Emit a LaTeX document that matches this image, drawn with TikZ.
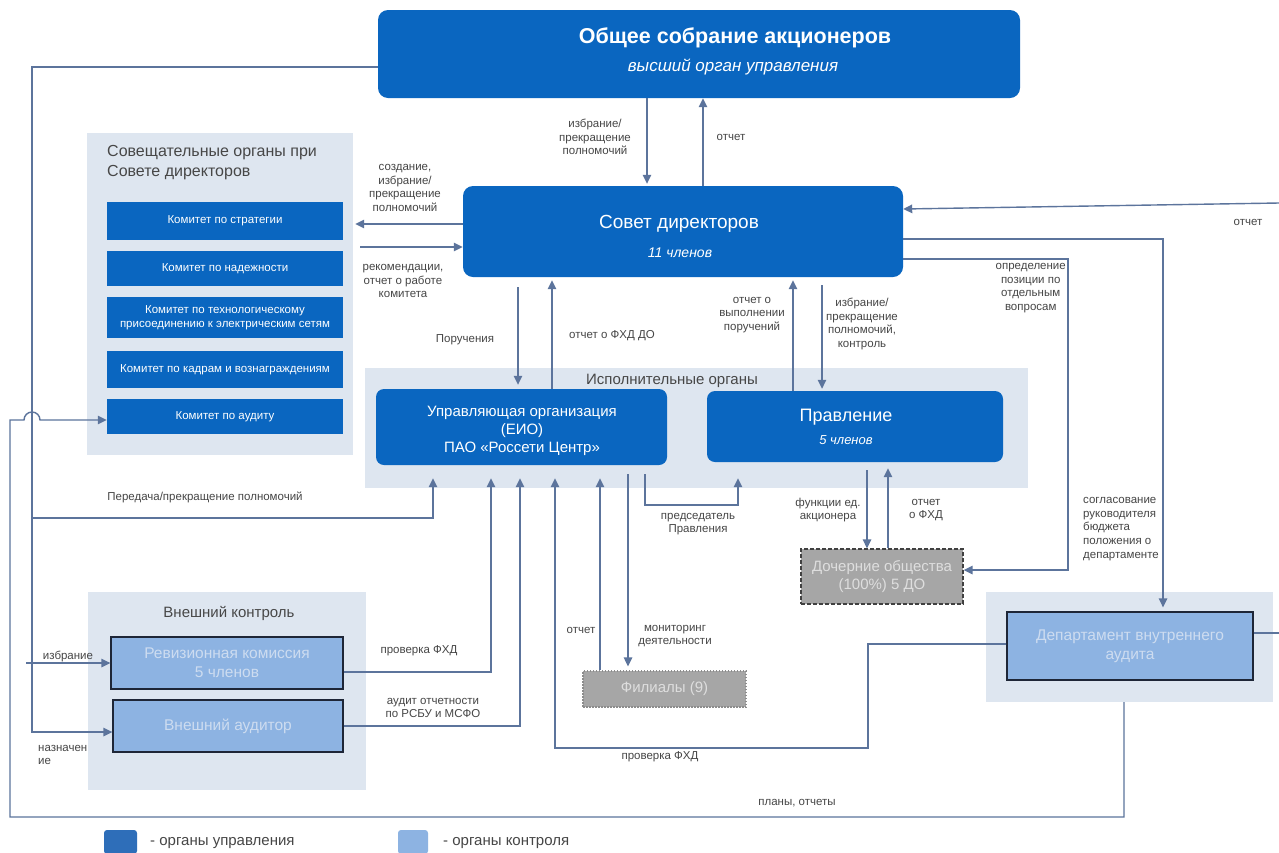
\documentclass[tikz,border=0pt]{standalone}
\usepackage{fontspec}
\setmainfont{Liberation Sans}
\usetikzlibrary{arrows.meta}
\definecolor{dblue}{RGB}{10,102,192}
\definecolor{pnl}{RGB}{222,230,240}
\definecolor{cbox}{RGB}{141,179,226}
\definecolor{cborder}{RGB}{30,38,55}
\definecolor{ctext}{RGB}{205,220,240}
\definecolor{lc}{RGB}{92,116,156}
\definecolor{tc}{RGB}{70,70,70}
\definecolor{gbox}{RGB}{166,166,166}
\definecolor{gtext}{RGB}{222,222,222}
\definecolor{legd}{RGB}{46,110,185}
\newcommand{\fsz}[2]{\fontsize{#1}{#2}\selectfont}
\begin{document}
\begin{tikzpicture}[x=1pt,y=-1pt,
  arr/.style={draw=lc, line width=1.4pt, -{Triangle[length=9pt,width=8.5pt]}},
  ln/.style={draw=lc, line width=1.4pt},
  lbl/.style={font=\fsz{11.5}{13.8}, text=tc, align=center, inner sep=0pt},
  dbox/.style={fill=dblue, text=white, align=center, inner sep=0pt},
  panel/.style={fill=pnl, inner sep=0pt},
  cbx/.style={fill=cbox, draw=cborder, line width=1.3pt, text=ctext, align=center, inner sep=0pt, font=\fsz{15.5}{19}},
  gbx/.style={fill=gbox, draw=black!75, line width=1.3pt, text=gtext, align=center, inner sep=0pt, font=\fsz{15}{18}},
  comm/.style={dbox, minimum width=236pt, font=\fsz{11.5}{14}},
  ttl/.style={text=black!72, inner sep=0pt},
]
\fill[white] (0,0) rectangle (1279,852);
\useasboundingbox (0,0) rectangle (1279,852);

% panels
\node[panel, minimum width=266pt, minimum height=322pt] (sovpanel) at (220,294) {};
\node[panel, minimum width=663pt, minimum height=120pt] (exec) at (696.5,428) {};
\node[panel, minimum width=278pt, minimum height=198pt] (ext) at (227,691) {};
\node[panel, minimum width=287pt, minimum height=110pt] (dvapanel) at (1129.5,647) {};

% top box
\node[dbox, rounded corners=10pt, minimum width=642pt, minimum height=88pt] (gsm) at (699,54) {};
\node[text=white, inner sep=0pt, font=\fsz{21.5}{25}\bfseries] (gsmt) at (735,38) {Общее собрание акционеров};
\node[text=white, inner sep=0pt, font=\fsz{17}{20}\itshape] (gsms) at (733,67) {высший орган управления};

% board
\node[dbox, rounded corners=10pt, minimum width=440pt, minimum height=91pt] (sovet) at (683,231.5) {};
\node[text=white, inner sep=0pt, font=\fsz{19}{22}] (sovett) at (679,224) {Совет директоров};
\node[text=white, inner sep=0pt, font=\fsz{14}{17}\itshape] (sovets) at (680,253) {11 членов};

% committees
\node[ttl, anchor=west, align=left, font=\fsz{16}{20}] (sovtitle) at (107,163) {Совещательные органы при\\Совете директоров};
\node[comm, minimum height=38pt] (c1) at (225,221) {Комитет по стратегии};
\node[comm, minimum height=35pt] (c2) at (225,268.5) {Комитет по надежности};
\node[comm, minimum height=41pt] (c3) at (225,317.5) {Комитет по технологическому\\присоединению к электрическим сетям};
\node[comm, minimum height=37pt] (c4) at (225,369.5) {Комитет по кадрам и вознаграждениям};
\node[comm, minimum height=35pt] (c5) at (225,416.5) {Комитет по аудиту};

% executive bodies
\node[ttl, font=\fsz{15}{18}] (exect) at (672,381) {Исполнительные органы};
\node[dbox, rounded corners=8pt, minimum width=291pt, minimum height=76pt] (uo) at (521.5,427) {};
\node[text=white, align=center, inner sep=0pt, font=\fsz{15}{18}] (uot) at (522,431) {Управляющая организация\\(ЕИО)\\ПАО «Россети Центр»};
\node[dbox, rounded corners=8pt, minimum width=296pt, minimum height=71pt] (prav) at (855,426.5) {};
\node[text=white, inner sep=0pt, font=\fsz{18}{21}] (pravt) at (846,417) {Правление};
\node[text=white, inner sep=0pt, font=\fsz{13}{16}\itshape] (pravs) at (846,440) {5 членов};

% external control
\node[ttl, font=\fsz{15}{18}] (extt) at (229,613) {Внешний контроль};
\node[cbx, minimum width=232pt, minimum height=52pt] (rk) at (227,663) {Ревизионная комиссия\\5 членов};
\node[cbx, minimum width=230pt, minimum height=52pt] (va) at (228,726) {Внешний аудитор};

% internal audit
\node[cbx, minimum width=246pt, minimum height=68pt] (dva) at (1130,646) {Департамент внутреннего\\аудита};

% subsidiaries, branches
\node[gbx, dash pattern=on 4pt off 2pt, minimum width=162pt, minimum height=55pt] (doch) at (882,576.5) {Дочерние общества\\(100\%) 5 ДО};
\node[gbx, draw=black!45, dash pattern=on 1.5pt off 1.5pt, minimum width=163pt, minimum height=36pt] (fil) at (664.5,689) {Филиалы (9)};

% legend
\node[fill=legd, rounded corners=3pt, minimum width=33pt, minimum height=24pt, inner sep=0pt] (leg1) at (120.5,842) {};
\node[anchor=west, inner sep=0pt, font=\fsz{15}{18}, text=tc] (leg1t) at (150,843) {- органы управления};
\node[fill=cbox, rounded corners=3pt, minimum width=30pt, minimum height=24pt, inner sep=0pt] (leg2) at (413,842) {};
\node[anchor=west, inner sep=0pt, font=\fsz{15}{18}, text=tc] (leg2t) at (443,843) {- органы контроля};

% helper coordinates
\coordinate (uob) at ([yshift=-13pt]uo.south);
\coordinate (prb) at ([yshift=-16pt]prav.south);
\coordinate (rt1) at (1279,203);
\coordinate (rt2) at (1279,633);

% top <-> board
\draw[arr, shorten >=2pt] (gsm.south -| 647,0) -- (sovet.north -| 647,0);
\draw[arr] (sovet.north -| 703,0) -- (gsm.south -| 703,0);
% board <-> committees
\draw[arr, shorten >=2pt] (sovet.west |- 0,224) -- (sovpanel.east |- 0,224);
\draw[arr, shorten <=7pt] (sovpanel.east |- 0,247) -- (sovet.west |- 0,247);
% board <-> executive
\draw[arr, shorten <=10pt, shorten >=4pt] (sovet.south -| 518,0) -- (uo.north -| 518,0);
\draw[arr, shorten >=3pt] (uo.north -| 552,0) -- (sovet.south -| 552,0);
\draw[arr, shorten >=3pt] (prav.north -| 793,0) -- (sovet.south -| 793,0);
\draw[arr, shorten <=8pt, shorten >=2pt] (sovet.south -| 822,0) -- (prav.north -| 822,0);
% board -> subsidiaries / internal audit
\draw[arr] (sovet.east |- 0,259) -| (1068,570) -- (doch.east |- 0,570);
\draw[arr, shorten >=4pt] (sovet.east |- 0,239) -| (dva.north -| 1163,0);
\draw[ln] (dva.east |- rt2) -- (rt2);
\draw[arr] (rt1) -- (sovet.east |- 0,209);
% left trunk from shareholders
\draw[arr] (gsm.west |- 0,67) -- (32,67) |- ([yshift=-6pt]va.west);
\draw[arr] (32,518) -| (uob -| 433,0);
\draw[arr] (26,663) -- (rk.west);
% bottom loop to audit committee
\draw[arr] (dvapanel.south -| 1124,0) -- (1124,817) -- (10,817) -- (10,420) -- (24,420) arc[start angle=180,end angle=360,radius=8] -- (c5.west |- 0,420);
% control -> executive
\draw[arr] ([yshift=-9pt]rk.east) -| (uob -| 491,0);
\draw[arr] (va.east) -| (uob -| 520,0);
\draw[arr] (dva.west |- 0,644) -- (868,644) |- (555,748) -- (uob -| 555,0);
% branches
\draw[arr] (fil.north -| 600,0) -- (uob -| 600,0);
\draw[arr, shorten <=-4pt, shorten >=4pt] (uob -| 628,0) -- (fil.north -| 628,0);
\draw[arr, shorten <=-4pt] (uob -| 645,0) -- (645,505) -| (prb -| 738,0);
% board of management <-> subsidiaries
\draw[arr, shorten <=8pt] (prav.south -| 867,0) -- (doch.north -| 867,0);
\draw[arr, shorten >=6pt] (doch.north -| 888,0) -- (prav.south -| 888,0);

% labels
\node[lbl] (l1) at (595,137) {избрание/\\прекращение\\полномочий};
\node[lbl] (l2) at (731,137) {отчет};
\node[lbl] (l3) at (405,188) {создание,\\избрание/\\прекращение\\полномочий};
\node[lbl] (l4) at (403,281) {рекомендации,\\отчет о работе\\комитета};
\node[lbl] (l5) at (465,340) {Поручения};
\node[lbl] (l6) at (612,336) {отчет о ФХД ДО};
\node[lbl] (l7) at (752,315) {отчет о\\выполнении\\поручений};
\node[lbl] (l8) at (862,324) {избрание/\\прекращение\\полномочий,\\контроль};
\node[lbl, anchor=east] (l9) at (1066,288) {определение\\позиции по\\отдельным\\вопросам};
\node[lbl, anchor=west, align=left] (l10) at (1083,529) {согласование\\руководителя\\бюджета\\положения о\\департаменте};
\node[lbl] (l11) at (1248,222) {отчет};
\node[lbl] (l12) at (205,497) {Передача/прекращение полномочий};
\node[lbl] (l13) at (68,656) {избрание};
\node[lbl, anchor=west, align=left] (l14) at (38,755) {назначен\\ие};
\node[lbl] (l15) at (419,651) {проверка ФХД};
\node[lbl] (l16) at (433,708) {аудит отчетности\\по РСБУ и МСФО};
\node[lbl] (l17) at (581,630) {отчет};
\node[lbl] (l18) at (675,636) {мониторинг\\деятельности};
\node[lbl] (l19) at (698,524) {председатель\\Правления};
\node[lbl] (l20) at (828,510) {функции ед.\\акционера};
\node[lbl] (l21) at (926,510) {отчет\\о ФХД};
\node[lbl] (l22) at (660,757) {проверка ФХД};
\node[lbl] (l23) at (797,803) {планы, отчеты};
\end{tikzpicture}
\end{document}
